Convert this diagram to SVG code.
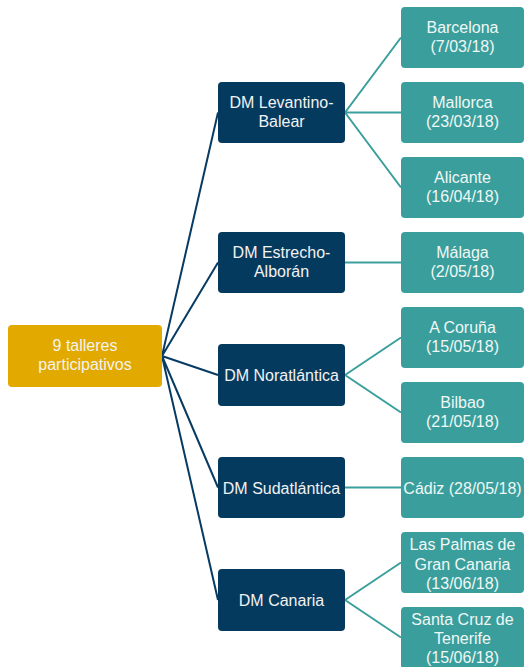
<svg xmlns="http://www.w3.org/2000/svg" width="525" height="667" viewBox="0 0 525 667">
<style>
text{font-family:"Liberation Sans",Arial,sans-serif;font-size:16px;text-anchor:middle}
.root rect{fill:#E2AA00}
.dm rect{fill:#053A5F}
.leaf rect{fill:#3A9F9C}
.root text,.dm text{fill:#F2F2F2}
.leaf text{fill:#F0F7F6}
.c1{stroke:#073B63;stroke-width:2;fill:none}
.c2{stroke:#3A9F9C;stroke-width:2;fill:none}
</style>
<rect width="525" height="667" fill="#FFFFFF"/>
<g id="connectors">
<path class="c1" d="M162 356L218 112.5M162 356L218 262.5M162 356L218 375M162 356L218 487.5M162 356L218 600"/>
<path class="c2" d="M345 112.5L401 37.5M345 112.5L401 112.5M345 112.5L401 187.5M345 262.5L401 262.5M345 375L401 337.5M345 375L401 412.5M345 487.5L401 487.5M345 600L401 562.5M345 600L401 637.5"/>
</g>
<g id="root" class="root"><rect x="8" y="325" width="154" height="62" rx="4"/><text x="85" y="351">9 talleres</text><text x="85" y="370">participativos</text></g>
<g id="dm-levantino" class="dm"><rect x="218" y="82" width="127" height="61" rx="4"/><text x="281.5" y="107.5">DM Levantino-</text><text x="281.5" y="127">Balear</text></g>
<g id="dm-estrecho" class="dm"><rect x="218" y="232" width="127" height="61" rx="4"/><text x="281.5" y="257.5">DM Estrecho-</text><text x="281.5" y="277">Alborán</text></g>
<g id="dm-noratlantica" class="dm"><rect x="218" y="344" width="127" height="62" rx="4"/><text x="281.5" y="381">DM Noratlántica</text></g>
<g id="dm-sudatlantica" class="dm"><rect x="218" y="457" width="127" height="61" rx="4"/><text x="281.5" y="493.5">DM Sudatlántica</text></g>
<g id="dm-canaria" class="dm"><rect x="218" y="569" width="127" height="62" rx="4"/><text x="281.5" y="606">DM Canaria</text></g>
<g id="barcelona" class="leaf"><rect x="401" y="7" width="123" height="61" rx="4"/><text x="462.5" y="32.5">Barcelona</text><text x="462.5" y="52">(7/03/18)</text></g>
<g id="mallorca" class="leaf"><rect x="401" y="82" width="123" height="61" rx="4"/><text x="462.5" y="107.5">Mallorca</text><text x="462.5" y="127">(23/03/18)</text></g>
<g id="alicante" class="leaf"><rect x="401" y="157" width="123" height="61" rx="4"/><text x="462.5" y="182.5">Alicante</text><text x="462.5" y="202">(16/04/18)</text></g>
<g id="malaga" class="leaf"><rect x="401" y="232" width="123" height="61" rx="4"/><text x="462.5" y="257.5">Málaga</text><text x="462.5" y="277">(2/05/18)</text></g>
<g id="coruna" class="leaf"><rect x="401" y="307" width="123" height="61" rx="4"/><text x="462.5" y="332.5">A Coruña</text><text x="462.5" y="352">(15/05/18)</text></g>
<g id="bilbao" class="leaf"><rect x="401" y="382" width="123" height="61" rx="4"/><text x="462.5" y="407.5">Bilbao</text><text x="462.5" y="427">(21/05/18)</text></g>
<g id="cadiz" class="leaf"><rect x="401" y="457" width="123" height="61" rx="4"/><text x="462.5" y="493.5">Cádiz (28/05/18)</text></g>
<g id="laspalmas" class="leaf"><rect x="401" y="532" width="123" height="61" rx="4"/><text x="462.5" y="550">Las Palmas de</text><text x="462.5" y="569.5">Gran Canaria</text><text x="462.5" y="589">(13/06/18)</text></g>
<g id="santacruz" class="leaf"><rect x="401" y="607" width="123" height="62" rx="4"/><text x="462.5" y="624.5">Santa Cruz de</text><text x="462.5" y="644">Tenerife</text><text x="462.5" y="663">(15/06/18)</text></g>
</svg>
